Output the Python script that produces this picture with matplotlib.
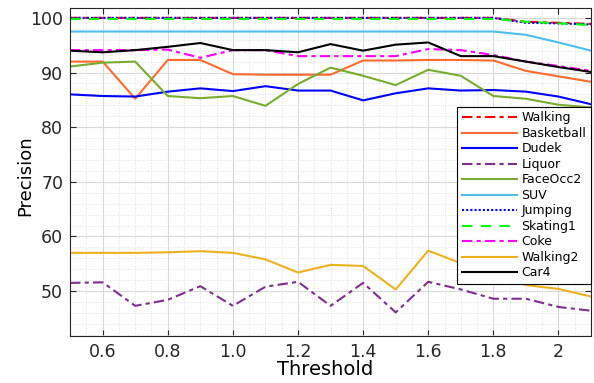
import numpy as np
import matplotlib
matplotlib.use("Agg")
import matplotlib.pyplot as plt
from matplotlib.ticker import MultipleLocator

plt.rcParams['font.family'] = ['DejaVu Sans']

threshold = [0.5, 0.6, 0.7, 0.8, 0.9, 1.0, 1.1, 1.2, 1.3, 1.4, 1.5, 1.6, 1.7, 1.8, 1.9, 2.0, 2.1]

walking    = [100, 100, 100, 100, 100, 100, 100, 100, 100, 100, 100, 100, 100, 100, 99.3, 99.1, 98.9]
basketball = [92.0, 92.0, 85.2, 92.3, 92.3, 89.7, 89.6, 89.6, 89.6, 92.2, 92.2, 92.3, 92.3, 92.2, 90.3, 89.3, 88.3]
dudek      = [86.0, 85.7, 85.6, 86.5, 87.1, 86.6, 87.5, 86.7, 86.7, 84.9, 86.2, 87.1, 86.7, 86.8, 86.5, 85.6, 84.2]
liquor     = [51.5, 51.6, 47.3, 48.4, 50.9, 47.3, 50.8, 51.7, 47.3, 51.5, 46.1, 51.7, 50.3, 48.6, 48.6, 47.1, 46.4]
faceocc2   = [91.1, 91.8, 92.0, 85.7, 85.3, 85.7, 83.9, 87.9, 90.9, 89.4, 87.7, 90.5, 89.4, 85.7, 85.2, 84.1, 83.6]
suv        = [97.5, 97.5, 97.5, 97.5, 97.5, 97.5, 97.5, 97.5, 97.5, 97.5, 97.5, 97.5, 97.5, 97.5, 96.9, 95.5, 94.0]
jumping    = [100, 100, 100, 100, 100, 100, 100, 100, 100, 100, 100, 100, 100, 100, 99.1, 99.0, 98.8]
skating1   = [99.8, 99.8, 99.8, 99.8, 99.8, 99.8, 99.8, 99.8, 99.8, 99.8, 99.8, 99.8, 99.8, 99.8, 99.3, 99.0, 98.7]
coke       = [94.1, 94.1, 94.1, 94.2, 92.7, 94.1, 94.1, 93.0, 93.0, 93.0, 93.0, 94.3, 94.1, 93.2, 92.0, 91.2, 90.3]
walking2   = [57.0, 57.0, 57.0, 57.1, 57.3, 57.0, 55.8, 53.4, 54.8, 54.6, 50.3, 57.4, 55.1, 53.0, 51.1, 50.4, 49.0]
car4       = [94.0, 93.7, 94.1, 94.7, 95.4, 94.1, 94.1, 93.7, 95.2, 94.0, 95.1, 95.5, 93.0, 93.0, 92.0, 91.0, 90.1]

series = [
    ("Walking", walking, "#FF0000", (0, (5, 2, 2, 2))),
    ("Basketball", basketball, "#FF6A2E", "-"),
    ("Dudek", dudek, "#0000FF", "-"),
    ("Liquor", liquor, "#7E2F8E", (0, (5, 2, 2, 2))),
    ("FaceOcc2", faceocc2, "#77AC30", "-"),
    ("SUV", suv, "#4DBEEE", "-"),
    ("Jumping", jumping, "#0000FF", (0, (1, 1))),
    ("Skating1", skating1, "#00FF00", (0, (5, 4))),
    ("Coke", coke, "#FF00FF", (0, (5, 2, 2, 2))),
    ("Walking2", walking2, "#EDB120", "-"),
    ("Car4", car4, "#000000", "-"),
]

fig = plt.figure(figsize=(5.94, 3.83), dpi=100)
ax = fig.add_axes([0.118, 0.123, 0.877, 0.856])

for name, vals, col, ls in series:
    ax.plot(threshold, vals, color=col, linestyle=ls, linewidth=1.5, label=name)

ax.set_xlim(0.5, 2.1)
ax.set_ylim(41.8, 101.8)
ax.xaxis.set_minor_locator(MultipleLocator(0.05))
ax.yaxis.set_minor_locator(MultipleLocator(2))
ax.set_xticks([0.6, 0.8, 1.0, 1.2, 1.4, 1.6, 1.8, 2.0])
ax.set_xticklabels(["0.6", "0.8", "1.0", "1.2", "1.4", "1.6", "1.8", "2"])
ax.set_yticks([50, 60, 70, 80, 90, 100])

ax.grid(which='major', color='#d9d9d9', linestyle='-', linewidth=0.8)
ax.grid(which='minor', color='#d9d9d9', linestyle=(0, (1, 2)), linewidth=0.6)
ax.set_axisbelow(True)

ax.tick_params(which='both', direction='in', top=True, right=True, labelsize=12.5, colors='#262626')
ax.tick_params(which='minor', length=0)
ax.tick_params(which='major', length=4)
ax.tick_params(axis='x', pad=5)
ax.tick_params(axis='y', pad=5)
for s in ax.spines.values():
    s.set_color('#262626')
    s.set_linewidth(0.8)

ax.set_xlabel("Threshold", fontsize=14)
ax.set_ylabel("Precision", fontsize=13)
ax.xaxis.set_label_coords(0.489, -0.075)
ax.yaxis.set_label_coords(-0.068, 0.49)

leg = ax.legend(loc='upper left', bbox_to_anchor=(0.743, 0.698), fontsize=9, frameon=True,
                fancybox=False, edgecolor='black', handlelength=4.4, labelspacing=0.2,
                borderpad=0.35, handletextpad=0.4, borderaxespad=0)
leg.get_frame().set_linewidth(0.8)
leg.get_frame().set_alpha(1)

fig.savefig("out.png", dpi=100)
